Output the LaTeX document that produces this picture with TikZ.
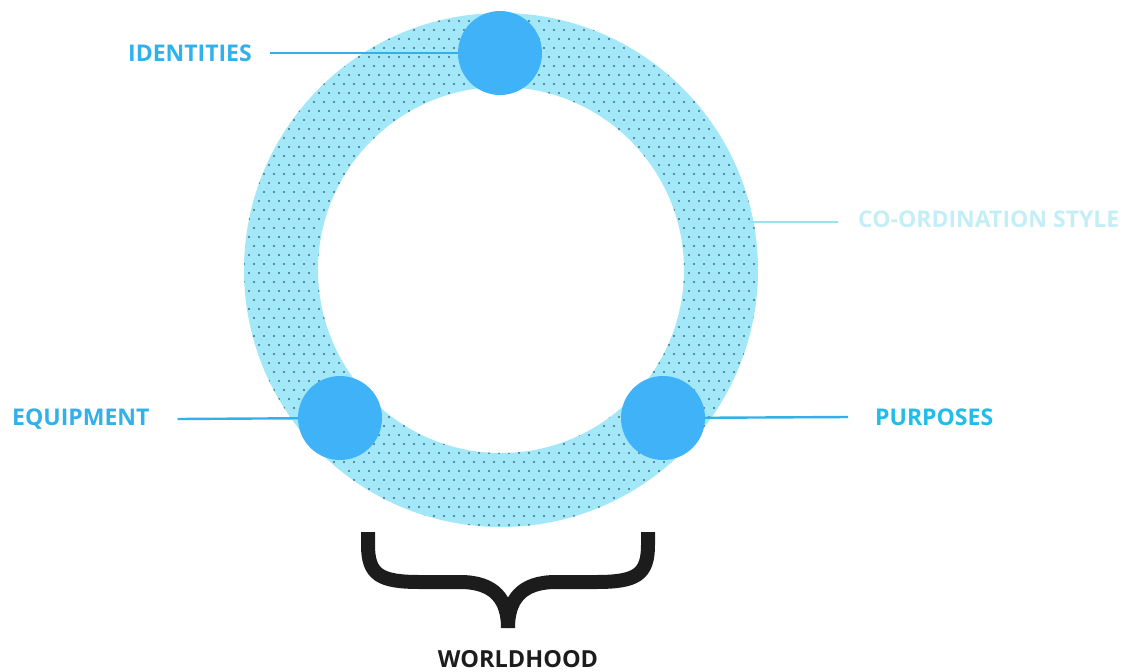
\documentclass[tikz,border=0pt]{standalone}
\usepackage{fontspec}
\setmainfont{Open Sans}
\usepackage{xcolor}
\usetikzlibrary{positioning,calc}
\definecolor{ringcyan}{RGB}{162,232,248}
\definecolor{dotgrey}{RGB}{70,110,130}
\definecolor{nodeblue}{RGB}{64,178,248}
\definecolor{labelblue}{RGB}{50,176,236}
\definecolor{purpcyan}{RGB}{34,188,232}
\definecolor{palecyan}{RGB}{196,238,246}
\definecolor{palelinecyan}{RGB}{150,228,236}
\definecolor{bracegrey}{RGB}{28,28,28}

\begin{document}
\begin{tikzpicture}[x=1pt,y=-1pt,
      hub/.style={circle,fill=nodeblue,minimum size=84pt,inner sep=0pt},
      lbl/.style={font=\fontsize{23}{25}\selectfont\bfseries,text=labelblue,inner sep=0pt},
      link/.style={labelblue,line width=2.4pt}]
    \useasboundingbox (0,0) rectangle (1130,672);
    \coordinate (ctr) at (501,270);
    % ring with dots
    \fill[ringcyan,even odd rule] (ctr) circle (257) (ctr) circle (183);
    \begin{scope}[even odd rule]
      \clip (ctr) circle (257) (ctr) circle (183);
      \foreach \j in {0,...,58}{
        \foreach \i in {0,...,52}{
          \fill[dotgrey] ({244+\i*10+mod(\j,2)*5},{12+\j*9}) circle (1.2);
        }
      }
    \end{scope}
    % hubs on the ring
    \node[hub](id) at (500,53){};
    \node[hub](eq) at (340,418){};
    \node[hub](pur) at (663,418){};
    % labels
    \node[lbl,anchor=east](idl) at (252,53){IDENTITIES};
    \node[lbl,anchor=west](eql) at (12,419){EQUIPMENT};
    \node[lbl,anchor=west,text=purpcyan](purl) at (875,417){PURPOSES};
    \node[lbl,anchor=west,text=palecyan](csl) at (858,219){CO-ORDINATION STYLE};
    \coordinate (csr) at (748,222);
    \draw[link]([xshift=18pt]idl.east)--(id);
    \draw[link]([xshift=28pt]eql.east)--(eq);
    \draw[link](pur)--([xshift=-27pt]purl.west);
    \draw[palelinecyan,line width=2pt](csr)--([xshift=-20pt,yshift=-3pt]csl.west);
    % brace
    \coordinate (bl) at (368,532);
    \coordinate (br) at (648,532);
    \coordinate (tip) at (508,628);
    \draw[bracegrey,line width=14pt](bl)--(368,545) .. controls (368,575) and (380,582) .. (420,582)
      --(460,582) .. controls (495,582) and (508,600) .. (tip);
    \draw[bracegrey,line width=14pt](br)--(648,545) .. controls (648,575) and (636,582) .. (596,582)
      --(556,582) .. controls (521,582) and (508,600) .. (tip);
    \node[font=\fontsize{23.5}{25}\selectfont\bfseries,text=bracegrey,below=19pt of tip,xshift=10pt](wh){WORLDHOOD};
\end{tikzpicture}
\end{document}
